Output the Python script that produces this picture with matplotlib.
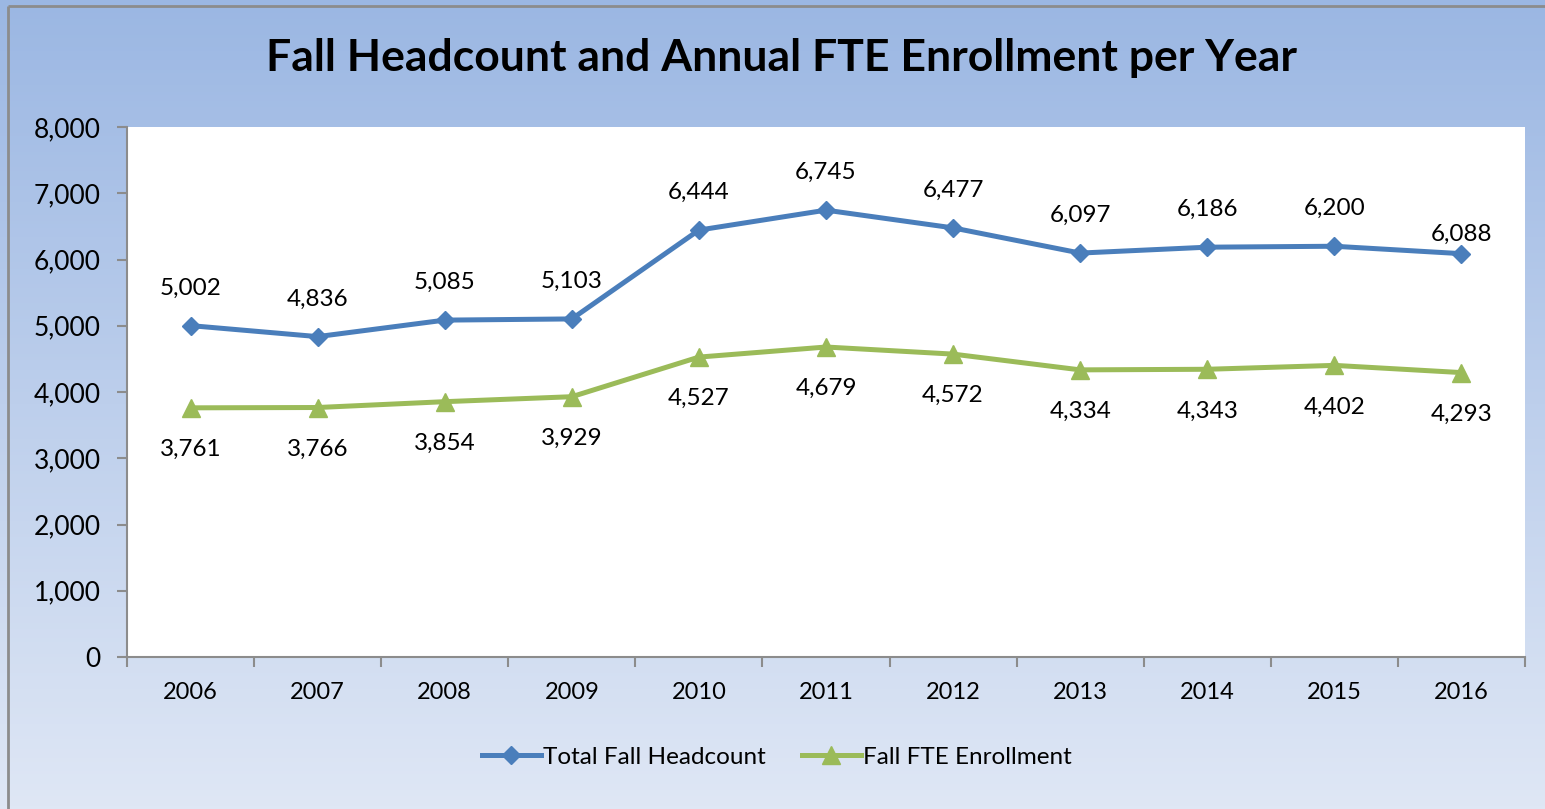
import numpy as np
import matplotlib.pyplot as plt
from matplotlib.lines import Line2D

years = ['2006', '2007', '2008', '2009', '2010', '2011', '2012', '2013', '2014', '2015', '2016']
headcount = [5002, 4836, 5085, 5103, 6444, 6745, 6477, 6097, 6186, 6200, 6088]
fte = [3761, 3766, 3854, 3929, 4527, 4679, 4572, 4334, 4343, 4402, 4293]

plt.rcParams['font.family'] = ['Lato', 'DejaVu Sans']

W, H = 1545, 809
fig = plt.figure(figsize=(W / 100, H / 100), dpi=100)

# gradient background
bg = fig.add_axes([0, 0, 1, 1], zorder=-10)
top = np.array([0x9b, 0xb7, 0xe3]) / 255
bot = np.array([0xdf, 0xe7, 0xf5]) / 255
t = np.linspace(0, 1, 256)[:, None]
grad = top[None, :] * (1 - t) + bot[None, :] * t
bg.imshow(grad[:, None, :], aspect='auto', extent=[0, 1, 0, 1], origin='upper')
bg.set_xlim(0, 1)
bg.set_ylim(0, 1)
bg.axis('off')
# frame lines on top and left
bg.plot([8 / W, 1], [1 - 6 / H, 1 - 6 / H], color='#8c8c8c', lw=2, solid_capstyle='butt')
bg.plot([8 / W, 8 / W], [0, 1 - 6 / H], color='#8c8c8c', lw=2, solid_capstyle='butt')

ax = fig.add_axes([127 / W, 1 - 657 / H, (1525 - 127) / W, (657 - 127) / H])
ax.set_facecolor('white')
x = np.arange(len(years))
blue = '#4a7ebb'
green = '#9bbb59'
ax.plot(x, headcount, color=blue, lw=3.6, marker='D', ms=9.5, mfc=blue, mec=blue, clip_on=False)
ax.plot(x, fte, color=green, lw=3.6, marker='^', ms=13, mfc=green, mec=green, clip_on=False)

for i in x:
    up = 14 if i == len(years) - 1 else 27  # last label sits closer in the original
    ax.annotate(f'{headcount[i]:,}', (i, headcount[i]), xytext=(0, up), textcoords='offset points',
                ha='center', va='center', fontsize=17.5)
    ax.annotate(f'{fte[i]:,}', (i, fte[i]), xytext=(0, -30), textcoords='offset points',
                ha='center', va='center', fontsize=17.5)

ax.set_xlim(-0.5, len(years) - 0.5)
ax.set_ylim(0, 8000)
ax.set_yticks(np.arange(0, 8001, 1000))
ax.set_yticklabels([f'{v:,}' for v in range(0, 8001, 1000)], fontsize=19)
ax.set_xticks(x)
ax.set_xticklabels(years, fontsize=17)
ax.set_xticks(np.arange(-0.5, len(years), 1), minor=True)
ax.tick_params(axis='x', which='major', length=0, pad=18)
ax.tick_params(axis='x', which='minor', length=7, width=1.5, color='#8c8c8c')
ax.tick_params(axis='y', length=7, width=1.5, color='#8c8c8c', pad=12)
for s in ['top', 'right']:
    ax.spines[s].set_visible(False)
for s in ['left', 'bottom']:
    ax.spines[s].set_color('#8c8c8c')
    ax.spines[s].set_linewidth(1.5)

fig.text(782 / W, 1 - 58 / H, 'Fall Headcount and Annual FTE Enrollment per Year',
         ha='center', va='center', fontsize=32, fontweight='bold')

handles = [Line2D([], [], color=blue, lw=3.6, marker='D', ms=9.5),
           Line2D([], [], color=green, lw=3.6, marker='^', ms=13)]
fig.legend(handles, ['Total Fall Headcount', 'Fall FTE Enrollment'], loc='center',
           bbox_to_anchor=(777 / W, 1 - 757 / H), ncol=2, frameon=False, fontsize=17.5,
           handlelength=2.4, handletextpad=0.1, columnspacing=1.5)

fig.savefig('out.png', dpi=100)
